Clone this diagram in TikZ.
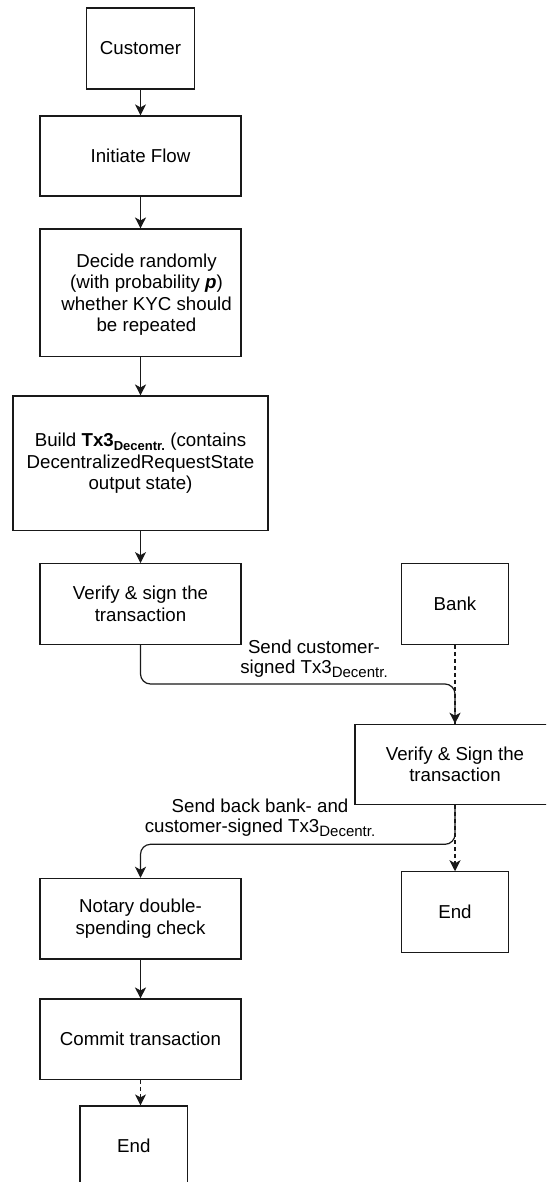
\documentclass[tikz,border=0pt]{standalone}
\usepackage{fontspec}
\setmainfont{Liberation Sans}
\usetikzlibrary{arrows.meta}
% lowered, smaller text used for "Decentr."
\newcommand\dsub[2][15]{\raisebox{-4pt}{\fontsize{#1}{#1}\selectfont #2}}

\begin{document}
\begin{tikzpicture}[x=1pt,y=-1pt,
  every node/.style={font=\fontsize{18.7}{21.5}\selectfont, align=center, inner sep=0pt},
  box/.style={draw=black!90, line width=1.2pt},
  flow/.style={draw=black!90, line width=1.2pt, -{Stealth[length=11pt,width=11pt,inset=3pt]}},
  dashflow/.style={flow, dash pattern=on 4pt off 3pt},
  dashline/.style={draw=black!90, line width=1.1pt, dash pattern=on 4pt off 3pt},
  edgelabel/.style={font=\fontsize{18.7}{19.5}\selectfont}]
\useasboundingbox (0,0) rectangle (546,1182);
\clip (0,0) rectangle (546,1182);

% customer side
\node[box, minimum width=107.6pt, minimum height=81pt] (cust) at (140.5,48.5) {Customer};
\node[box, minimum width=201pt, minimum height=80pt] (init) at (140.5,156) {Initiate Flow};
\node[box, minimum width=201pt, minimum height=127.3pt] (decide) at (140.5,292.7) {};
\node (decideTxt) at (146.5,294.5) {Decide randomly\\(with probability \textbf{\textit{p}})\\whether KYC should\\be repeated};
\node[box, minimum width=255pt, minimum height=134.3pt] (build) at (140.5,463.2)
  {Build \textbf{Tx3\dsub[13]{Decentr.}} (contains\\DecentralizedRequestState\\output state)};
\node[box, minimum width=201pt, minimum height=80.6pt] (ver) at (140.5,604) {Verify \& sign the\\transaction};

% bank side
\node[box, minimum width=107.5pt, minimum height=80.6pt] (bank) at (455,604) {Bank};
\node[box, minimum width=200pt, minimum height=80pt] (vs) at (455,764.3) {Verify \& Sign the\\transaction};
\node[box, minimum width=107.5pt, minimum height=80.3pt] (endR) at (455,912) {End};

% notary and commit
\node[box, minimum width=201pt, minimum height=80.7pt] (notary) at (140.5,918.7) {Notary double-\\spending check};
\node[box, minimum width=201pt, minimum height=80.3pt] (commit) at (140.5,1039.2) {Commit transaction};
\node[box, minimum width=107.5pt, minimum height=80pt] (endB) at (133.8,1146) {End};

% connector labels
\node[edgelabel] (lab1) at (314,659) {Send customer-\\signed Tx3\dsub{Decentr.}};
\node[edgelabel] (lab2) at (260,818) {Send back bank- and\\customer-signed Tx3\dsub{Decentr.}};

% connectors
\draw[flow] (cust.south) -- (init.north);
\draw[flow] (init.south) -- (decide.north);
\draw[flow] (decide.south) -- (build.north);
\draw[flow] (build.south) -- (ver.north);
\draw[dashline] (bank.south) -- (vs.north);
\coordinate (bend1) at (455,684);
\draw[flow, rounded corners=10pt] (ver.south) |- (bend1) -- (vs.north);
\draw[dashflow] (vs.south) -- (endR.north);
\coordinate (bend2) at (140.5,844.3);
\draw[flow, rounded corners=10pt] (vs.south) |- (bend2) -- (notary.north);
\draw[flow] (notary.south) -- (commit.north);
\draw[dashflow] (commit.south) -- (commit.south |- endB.north);
\end{tikzpicture}
\end{document}
